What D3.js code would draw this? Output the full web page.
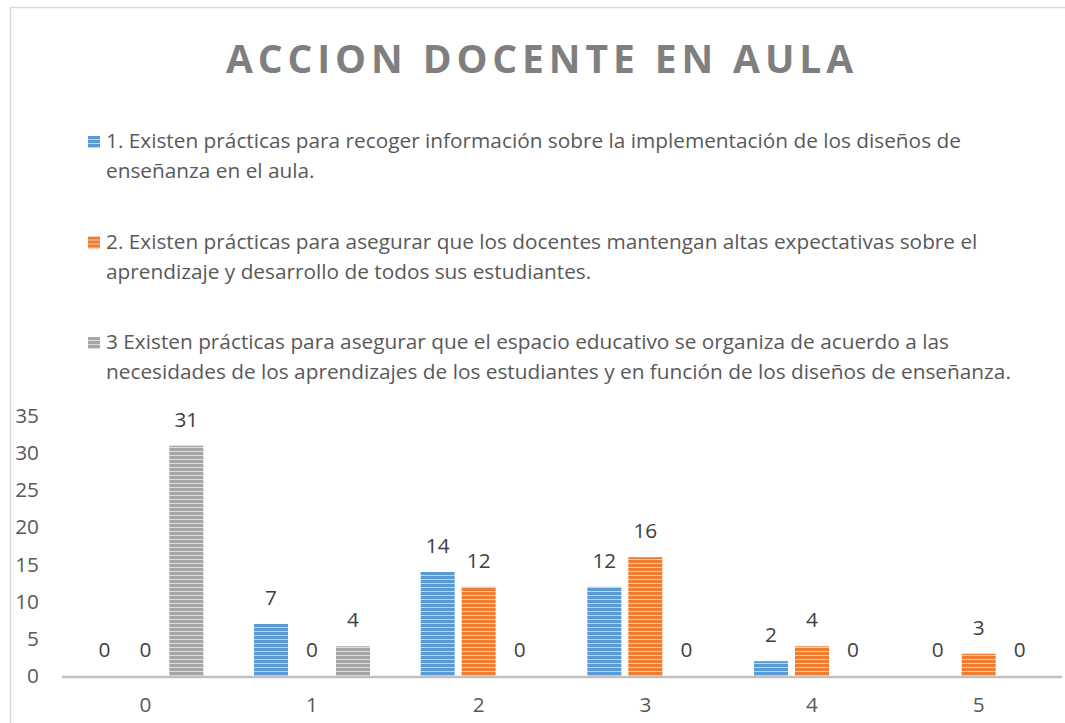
<!DOCTYPE html>
<head>
  <meta charset="utf-8">
  <script src="https://cdn.jsdelivr.net/npm/d3@7"></script>
  <style>
    body { margin: 0; background: #fff; }
    text { font-family: "Open Sans", "Noto Sans", sans-serif; }
  </style>
</head>
<body>
  <div id="chartDiv"></div>
  <script>

    var categories = ["0", "1", "2", "3", "4", "5"];
    var series = ["s1", "s2", "s3"];
    var serie1 = [0, 7, 14, 12, 2, 0];
    var serie2 = [0, 0, 12, 16, 4, 3];
    var serie3 = [31, 4, 0, 0, 0, 0];
    var yTicks = [0, 5, 10, 15, 20, 25, 30, 35];
    var legendLines = [
      ["1. Existen prácticas para recoger información sobre la implementación de los diseños de",
       "enseñanza en el aula."],
      ["2. Existen prácticas para asegurar que los docentes mantengan altas expectativas sobre el",
       "aprendizaje y desarrollo de todos sus estudiantes."],
      ["3 Existen prácticas para asegurar que el espacio educativo se organiza de acuerdo a las",
       "necesidades de los aprendizajes de los estudiantes y en función de los diseños de enseñanza."]
    ];
    var title = "ACCION DOCENTE EN AULA";

    var colors = ["#5b9bd5", "#ed7d31", "#a5a5a5"];
    var lights = ["#bcd6ee", "#f8c9a9", "#dddddd"];
    var values = [serie1, serie2, serie3];

    var width = 1065, height = 723;
    var fontSize = "20.8px";

    var svg = d3.select("#chartDiv").append("svg")
        .attr("width", width)
        .attr("height", height);

    // striped fills
    var defs = svg.append("defs");
    series.forEach(function(s, i) {
      var p = defs.append("pattern")
          .attr("id", "pat" + i)
          .attr("patternUnits", "userSpaceOnUse")
          .attr("width", 8)
          .attr("height", 4);
      p.append("rect").attr("width", 8).attr("height", 4).attr("fill", colors[i]);
      p.append("rect").attr("y", 3).attr("width", 8).attr("height", 1).attr("fill", lights[i]);
    });

    // chart border
    svg.append("rect")
        .attr("x", 10.5).attr("y", 7.5)
        .attr("width", 1070).attr("height", 730)
        .attr("fill", "none")
        .attr("stroke", "#d9d9d9")
        .attr("stroke-width", 1.5);

    svg.append("text")
        .attr("x", 542)
        .attr("y", 73)
        .attr("text-anchor", "middle")
        .style("font-size", "39px")
        .style("font-weight", "bold")
        .style("letter-spacing", "4.9px")
        .attr("fill", "#7f7f7f")
        .text(title);

    // legend
    var legend = svg.selectAll("g.legend")
        .data(legendLines)
      .enter().append("g")
        .attr("class", "legend")
        .attr("transform", function(d, i) { return "translate(88," + (148 + i * 100.5) + ")"; });

    legend.append("rect")
        .attr("x", 0).attr("y", -12)
        .attr("width", 12).attr("height", 12)
        .attr("fill", function(d, i) { return "url(#pat" + i + ")"; });

    legend.append("text")
        .attr("fill", "#595959")
        .style("font-size", fontSize)
        .selectAll("tspan")
        .data(function(d) { return d; })
      .enter().append("tspan")
        .attr("x", 18)
        .attr("dy", function(d, i) { return i == 0 ? 0 : 30; })
        .text(function(d) { return d; });

    // scales
    var x = d3.scaleBand()
        .domain(categories)
        .range([62, 1062]);

    var xInner = d3.scaleBand()
        .domain(series)
        .range([-58, 58])
        .paddingInner(0.171);

    var y = d3.scaleLinear()
        .domain([0, 35])
        .range([676, 416]);

    // y axis labels
    svg.selectAll("text.ytick")
        .data(yTicks)
      .enter().append("text")
        .attr("class", "ytick")
        .attr("x", 39)
        .attr("y", function(d) { return y(d) + 7; })
        .attr("text-anchor", "end")
        .attr("fill", "#595959")
        .style("font-size", fontSize)
        .text(function(d) { return d; });

    // bars
    var groups = svg.selectAll("g.cat")
        .data(categories)
      .enter().append("g")
        .attr("class", "cat")
        .attr("transform", function(d) { return "translate(" + (x(d) + x.bandwidth() / 2) + ",0)"; });

    series.forEach(function(s, si) {
      groups.append("rect")
          .attr("x", function(d, ci) { return xInner(s); })
          .attr("y", function(d, ci) { return y(values[si][ci]); })
          .attr("width", xInner.bandwidth())
          .attr("height", function(d, ci) { return y(0) - y(values[si][ci]); })
          .attr("fill", "url(#pat" + si + ")");

      groups.append("text")
          .attr("x", function(d, ci) { return xInner(s) + xInner.bandwidth() / 2; })
          .attr("y", function(d, ci) { return y(values[si][ci]) - 19; })
          .attr("text-anchor", "middle")
          .attr("fill", "#404040")
          .style("font-size", fontSize)
          .text(function(d, ci) { return values[si][ci]; });
    });

    // x axis
    svg.append("line")
        .attr("x1", 62).attr("x2", 1062)
        .attr("y1", 677).attr("y2", 677)
        .attr("stroke", "#bfbfbf")
        .attr("stroke-width", 2.5);

    svg.selectAll("text.xtick")
        .data(categories)
      .enter().append("text")
        .attr("class", "xtick")
        .attr("x", function(d) { return x(d) + x.bandwidth() / 2; })
        .attr("y", 712)
        .attr("text-anchor", "middle")
        .attr("fill", "#595959")
        .style("font-size", fontSize)
        .text(function(d) { return d; });

  </script>
</body>
